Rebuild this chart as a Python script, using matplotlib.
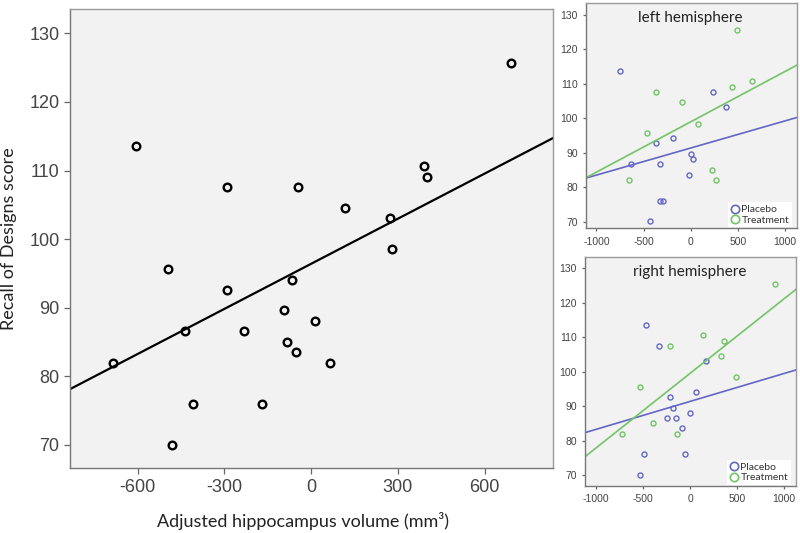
import numpy as np
import matplotlib

matplotlib.use("Agg")
import matplotlib.pyplot as plt
from matplotlib.lines import Line2D

plt.rcParams["axes.unicode_minus"] = False

# main panel: all participants
main_x = [-685, -607, -496, -481, -435, -409, -290, -290, -231, -170, -92, -82,
          -66, -53, -46, 13, 66, 119, 273, 280, 392, 401, 692]
main_y = [82.0, 113.6, 95.6, 70.0, 86.6, 76.0, 107.6, 92.6, 86.6, 76.0, 89.6, 85.0,
          94.0, 83.5, 107.6, 88.1, 82.0, 104.6, 103.1, 98.6, 110.7, 109.1, 125.7]
main_fit = (96.4, 0.0219)  # intercept, slope

# left hemisphere
left_pl_x = [-748, -635, -367, -321, -190, 3, 28, -14, 240, 374, -328, -289, -437]
left_pl_y = [113.7, 86.75, 92.75, 86.7, 94.2, 89.65, 88.1, 83.6, 107.7, 103.2, 76.1, 76.1, 70.2]
left_tr_x = [487, -367, -88, -462, 77, 441, 653, -653, 229, 272]
left_tr_y = [125.7, 107.6, 104.7, 95.65, 98.45, 109.2, 110.75, 82.1, 85.1, 82.1]
left_fit_pl = (91.4, 0.00786)
left_fit_tr = (99.0, 0.0146)

# right hemisphere
right_pl_x = [-467, -333, -212, -180, -241, -145, -3, 60, -88, 167, -488, -50, -528]
right_pl_y = [113.5, 107.5, 92.5, 89.55, 86.55, 86.55, 88.1, 94.0, 83.55, 103.0, 76.0, 76.0, 70.0]
right_tr_x = [902, 135, 361, -212, 326, 485, -531, -393, -719, -141]
right_tr_y = [125.5, 110.55, 109.0, 107.45, 104.55, 98.55, 95.55, 85.0, 82.0, 82.0]
right_fit_pl = (91.36, 0.00813)
right_fit_tr = (99.5, 0.0217)

BLUE = "#6266c4"
GREEN = "#72c466"
TICKFONT = "Liberation Sans"
LABELFONT = "Lato"

fig = plt.figure(figsize=(8, 5.33), dpi=100)
fig.patch.set_facecolor("white")


def style(ax, size, tick_len):
    ax.set_facecolor("#f2f2f2")
    for side in ["top", "right"]:
        ax.spines[side].set_color("#9a9a9a")
    for side in ["left", "bottom"]:
        ax.spines[side].set_color("#777777")
    for s in ax.spines.values():
        s.set_linewidth(1.0)
    ax.tick_params(direction="out", length=tick_len, width=0.9, color="#666666",
                   labelsize=size, labelcolor="#444444", top=False, right=False)
    for lab in ax.get_xticklabels() + ax.get_yticklabels():
        lab.set_family(TICKFONT)


# main scatter
ax = fig.add_axes([0.0875, 0.1214, 0.6034, 0.8612])
ax.plot(main_x, main_y, "o", ms=5.5, mfc="none", mec="black", mew=1.7, ls="none")
xl = np.array([-834, 836])
ax.plot(xl, main_fit[0] + main_fit[1] * xl, color="black", lw=1.6)
ax.set_xlim(-834, 836)
ax.set_ylim(66.6, 133.5)
ax.set_xticks([-600, -300, 0, 300, 600])
ax.set_yticks([70, 80, 90, 100, 110, 120, 130])
style(ax, 13, 4)
ax.set_xlabel("Adjusted hippocampus volume (mm³)", family=LABELFONT, fontsize=13,
              color="#222222", va="center")
ax.set_ylabel("Recall of Designs score", family=LABELFONT, fontsize=13,
              color="#222222", va="center")
ax.xaxis.set_label_coords(0.483, -0.115)
ax.yaxis.set_label_coords(-0.126, 0.5)


def hemi(rect, title, tx, ty, px, py, trx, try_, fpl, ftr, xlim, ylim):
    a = fig.add_axes(rect)
    a.plot(px, py, "o", ms=3.6, mfc="none", mec=BLUE, mew=1.0, ls="none")
    a.plot(trx, try_, "o", ms=3.6, mfc="none", mec=GREEN, mew=1.0, ls="none")
    xx = np.array(xlim)
    a.plot(xx, fpl[0] + fpl[1] * xx, color=BLUE, lw=1.2)
    a.plot(xx, ftr[0] + ftr[1] * xx, color=GREEN, lw=1.2)
    a.set_xlim(*xlim)
    a.set_ylim(*ylim)
    a.set_xticks([-1000, -500, 0, 500, 1000])
    a.set_yticks([70, 80, 90, 100, 110, 120, 130])
    style(a, 7.5, 2.5)
    a.text(tx, ty, title, transform=a.transAxes, ha="center", va="center",
           family=LABELFONT, fontsize=11, color="#222222")
    handles = [
        Line2D([], [], marker="o", ls="none", ms=6, mfc="none", mec=BLUE, mew=1.2, label="Placebo"),
        Line2D([], [], marker="o", ls="none", ms=6, mfc="none", mec=GREEN, mew=1.2, label="Treatment"),
    ]
    leg = a.legend(handles=handles, loc="lower right", bbox_to_anchor=(0.975, 0.005),
                   frameon=True, fancybox=False, facecolor="white", edgecolor="none",
                   framealpha=1, handlelength=0.8, handletextpad=0.25, borderpad=0.25,
                   labelspacing=0.1, borderaxespad=0.0,
                   prop={"family": LABELFONT, "size": 7.5})
    for t in leg.get_texts():
        t.set_color("#333333")
    return a


hemi([0.7325, 0.5717, 0.26375, 0.4221], "left hemisphere", 0.493, 0.933,
     left_pl_x, left_pl_y, left_tr_x, left_tr_y, left_fit_pl, left_fit_tr,
     (-1111, 1128), (68.1, 133.4))
hemi([0.73125, 0.0882, 0.26375, 0.4296], "right hemisphere", 0.498, 0.936,
     right_pl_x, right_pl_y, right_tr_x, right_tr_y, right_fit_pl, right_fit_tr,
     (-1115, 1125), (66.8, 133.3))

fig.savefig("out.png", dpi=100)
